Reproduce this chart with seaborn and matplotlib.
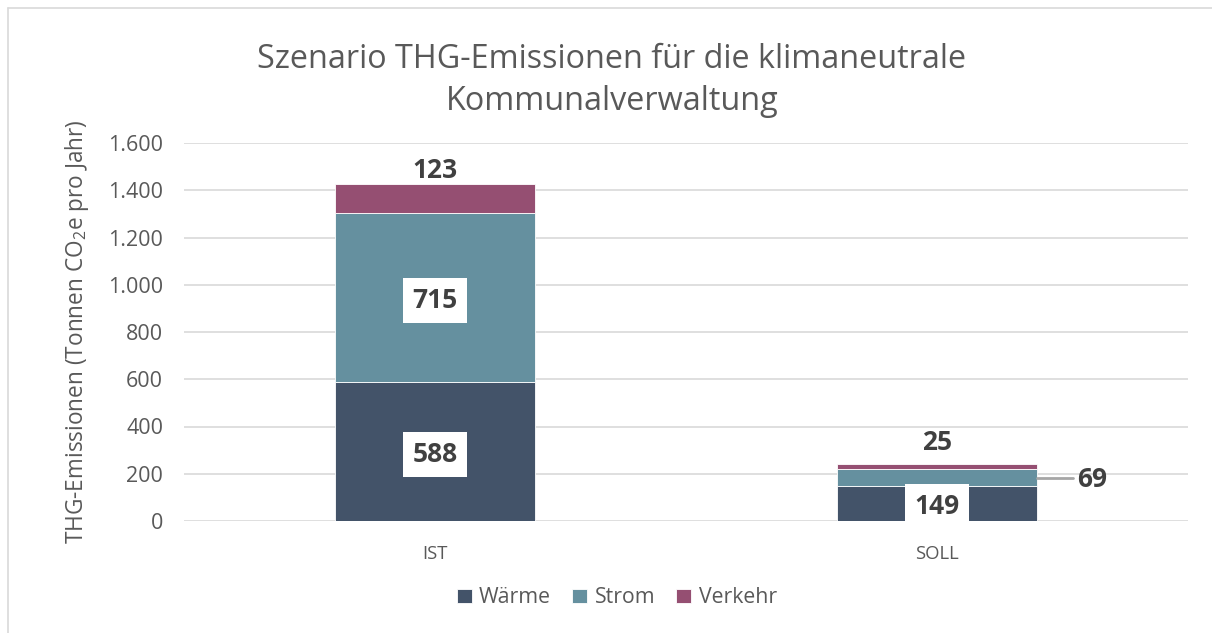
import numpy as np
import pandas as pd
import matplotlib
matplotlib.use("Agg")
import matplotlib.pyplot as plt
import seaborn as sns
from matplotlib.ticker import FuncFormatter

# Daten
kategorien = ["IST", "SOLL"]
waerme = [588, 149]
strom = [715, 69]
verkehr = [123, 25]

farben = {"Wärme": "#435369", "Strom": "#65909F", "Verkehr": "#954F72"}
grau = "#595959"

sns.set_theme(style="white")
plt.rcParams["font.family"] = ["Open Sans", "DejaVu Sans"]
plt.rcParams["mathtext.fontset"] = "custom"
plt.rcParams["mathtext.rm"] = "Open Sans"
plt.rcParams["mathtext.default"] = "regular"

df = pd.DataFrame({"kategorie": kategorien, "Wärme": waerme, "Strom": strom, "Verkehr": verkehr})
df["unten_strom"] = df["Wärme"]
df["unten_verkehr"] = df["Wärme"] + df["Strom"]

fig = plt.figure(figsize=(12.12, 6.33), dpi=100)
ax = fig.add_axes([184 / 1212, 1 - 521 / 633, 1004 / 1212, 378 / 633])

sns.barplot(data=df, x="kategorie", y="Wärme", color=farben["Wärme"], width=0.4,
            saturation=1, ax=ax, label="Wärme", zorder=3)
sns.barplot(data=df, x="kategorie", y="Strom", bottom=df["unten_strom"], color=farben["Strom"],
            width=0.4, saturation=1, ax=ax, label="Strom", zorder=3)
sns.barplot(data=df, x="kategorie", y="Verkehr", bottom=df["unten_verkehr"], color=farben["Verkehr"],
            width=0.4, saturation=1, ax=ax, label="Verkehr", zorder=3)

for p in ax.patches:
    p.set_edgecolor("white")
    p.set_linewidth(0.6)

ax.set_ylim(0, 1600)
ax.set_xlim(-0.5, 1.5)
ax.set_yticks(np.arange(0, 1601, 200))
ax.yaxis.set_major_formatter(FuncFormatter(lambda v, _: f"{int(v):,}".replace(",", ".")))
ax.grid(axis="y", color="#D9D9D9", linewidth=1.2, zorder=0)
ax.set_axisbelow(True)
sns.despine(ax=ax, left=True, bottom=True, top=True, right=True)
ax.tick_params(axis="y", colors=grau, labelsize=15.5, length=0, pad=15)
ax.tick_params(axis="x", colors=grau, labelsize=13.3, length=0, pad=17)
ax.set_xlabel("")
ax.set_ylabel("THG-Emissionen (Tonnen CO$_2$e pro Jahr)", color=grau, fontsize=16.3, labelpad=12)

# Datenbeschriftungen
box = dict(facecolor="white", edgecolor="none", pad=6.5)
lab = dict(ha="center", va="center", fontsize=19, fontweight="bold", color="#404040", zorder=5)


def beschriften(x, y, text, dy, mit_box=False):
    ax.annotate(text, (x, y), xytext=(0, dy), textcoords="offset points",
                bbox=box if mit_box else None, **lab)


beschriften(0, waerme[0] / 2, str(waerme[0]), -2, True)
beschriften(0, waerme[0] + strom[0] / 2, str(strom[0]), -2, True)
beschriften(0, waerme[0] + strom[0] + verkehr[0], str(verkehr[0]), 10)
beschriften(1, waerme[1] / 2, str(waerme[1]), -2, True)
y69 = waerme[1] + strom[1] / 2
ax.plot([1.2, 1.27], [y69, y69], color="#A6A6A6", linewidth=2, zorder=4)
ax.annotate(str(strom[1]), (1.31, y69), xytext=(0, -1), textcoords="offset points", **lab)
beschriften(1, waerme[1] + strom[1] + verkehr[1], str(verkehr[1]), 15)

fig.suptitle("Szenario THG-Emissionen für die klimaneutrale\nKommunalverwaltung",
             x=0.505, y=0.932, fontsize=23.3, color=grau, linespacing=1.34)

ax.legend(loc="upper center", bbox_to_anchor=(0.431, -0.125), ncol=3, frameon=False,
          fontsize=15.3, labelcolor=grau, handlelength=0.7, handleheight=0.7,
          handletextpad=0.35, columnspacing=1.0)

# Rahmen
fig.add_artist(plt.Line2D([8 / 1212, 1], [1 - 8 / 633, 1 - 8 / 633], color="#D9D9D9", linewidth=1.2))
fig.add_artist(plt.Line2D([8 / 1212, 8 / 1212], [0, 1 - 8 / 633], color="#D9D9D9", linewidth=1.2))

fig.savefig("out.png", dpi=100)
